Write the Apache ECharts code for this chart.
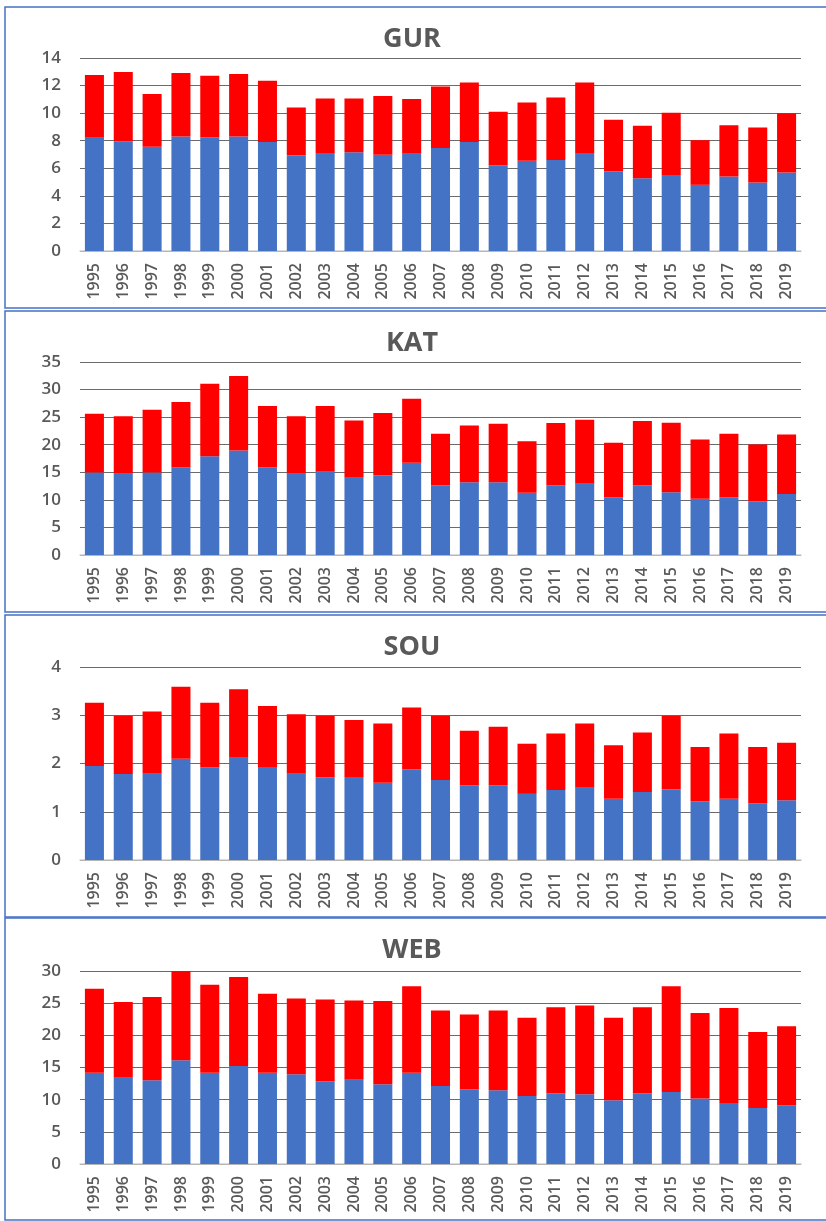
<!DOCTYPE html>
<html>
<head>
<meta charset="utf-8">
<script src="https://cdn.jsdelivr.net/npm/echarts@6/dist/echarts.min.js"></script>
<style>
  html, body { margin: 0; padding: 0; background: #fff; }
  #chart { width: 826px; height: 1221px; }
</style>
</head>
<body>
<div id="chart"></div>
<script>
// Years on the category axis
const years = ['1995','1996','1997','1998','1999','2000','2001','2002','2003','2004','2005','2006',
  '2007','2008','2009','2010','2011','2012','2013','2014','2015','2016','2017','2018','2019'];

// GUR: lower (blue) and upper (red) segments
const gurLower = [8.21,7.97,7.56,8.31,8.26,8.31,7.90,6.93,7.10,7.17,6.98,7.05,7.48,7.90,6.20,6.54,6.61,7.10,5.76,5.28,5.52,4.80,5.40,4.96,5.69];
const gurUpper = [4.55,5.01,3.82,4.60,4.45,4.53,4.45,3.48,3.97,3.90,4.26,3.97,4.46,4.33,3.90,4.24,4.53,5.13,3.76,3.80,4.51,3.24,3.73,4.00,4.31];

// KAT
const katLower = [14.96,14.72,14.96,15.93,17.93,18.96,15.93,14.72,15.08,13.99,14.42,16.72,12.60,13.20,13.20,11.27,12.60,12.90,10.48,12.60,11.39,10.18,10.48,9.69,11.08];
const katUpper = [10.66,10.42,11.39,11.81,13.14,13.50,11.08,10.42,11.93,10.42,11.32,11.63,9.39,10.30,10.60,9.38,11.32,11.63,9.87,11.69,12.59,10.78,11.51,10.36,10.79];

// SOU
const souLower = [1.95,1.78,1.79,2.10,1.92,2.12,1.93,1.79,1.71,1.72,1.60,1.88,1.66,1.55,1.55,1.37,1.45,1.50,1.27,1.41,1.46,1.21,1.27,1.17,1.24];
const souUpper = [1.31,1.21,1.29,1.49,1.34,1.42,1.26,1.23,1.28,1.18,1.23,1.28,1.33,1.13,1.21,1.04,1.17,1.33,1.11,1.23,1.53,1.13,1.35,1.17,1.19];

// WEB
const webLower = [14.20,13.42,13.01,16.11,14.20,15.23,14.20,13.94,12.85,13.11,12.39,14.20,12.13,11.62,11.46,10.58,10.94,10.84,9.91,10.94,11.20,10.17,9.50,8.72,9.14];
const webUpper = [13.06,11.77,12.96,13.89,13.68,13.84,12.28,11.77,12.71,12.29,12.96,13.42,11.72,11.61,12.39,12.14,13.43,13.79,12.81,13.43,16.42,13.32,14.76,11.78,12.28];

// Axis ranges per panel
const panelNames = ['GUR', 'KAT', 'SOU', 'WEB'];
const axisMax = [14, 35, 4, 30];
const axisStep = [2, 5, 1, 5];

const panels = [
  { name: panelNames[0], lower: gurLower, upper: gurUpper, max: axisMax[0], step: axisStep[0], top: 58,  title: 21,  box: [5, 7, 308] },
  { name: panelNames[1], lower: katLower, upper: katUpper, max: axisMax[1], step: axisStep[1], top: 362, title: 325, box: [5, 311, 612] },
  { name: panelNames[2], lower: souLower, upper: souUpper, max: axisMax[2], step: axisStep[2], top: 667, title: 629, box: [5, 615, 917] },
  { name: panelNames[3], lower: webLower, upper: webUpper, max: axisMax[3], step: axisStep[3], top: 971, title: 932, box: [5, 918, 1220] }
];

const FONT = '"Open Sans", "Liberation Sans", sans-serif';
const TEXT = '#595959';
const PLOT_H = 193;

const grids = [], xAxes = [], yAxes = [], series = [], titles = [], boxes = [];

panels.forEach((p, i) => {
  grids.push({ left: 80, right: 25, top: p.top, height: PLOT_H, containLabel: false });
  titles.push({
    text: p.name, left: 407, top: p.title, textAlign: 'center',
    textStyle: { fontFamily: FONT, fontSize: 27, fontWeight: 'bold', color: TEXT }
  });
  xAxes.push({
    type: 'category', gridIndex: i, data: years,
    axisLine: { show: true, lineStyle: { color: '#d0d0d0', width: 1.5 } },
    axisTick: { show: false },
    axisLabel: { rotate: 90, margin: 12, fontFamily: FONT, fontSize: 16, fontWeight: 600, color: TEXT, interval: 0 }
  });
  yAxes.push({
    type: 'value', gridIndex: i, min: 0, max: p.max, interval: p.step,
    axisLine: { show: false }, axisTick: { show: false },
    axisLabel: { margin: 19, fontFamily: FONT, fontSize: 17, fontWeight: 600, color: TEXT },
    splitLine: { show: true, lineStyle: { color: '#6b6b6b', width: 1.2 } }
  });
  series.push({
    type: 'bar', name: p.name + ' lower', xAxisIndex: i, yAxisIndex: i, stack: 's' + i,
    data: p.lower, barCategoryGap: '34%',
    itemStyle: { color: '#4472C4' }
  });
  series.push({
    type: 'bar', name: p.name + ' upper', xAxisIndex: i, yAxisIndex: i, stack: 's' + i,
    data: p.upper, barCategoryGap: '34%',
    itemStyle: { color: '#FF0000' }
  });
  // Panel frame
  boxes.push({
    type: 'rect', silent: true, z: 100,
    shape: { x: p.box[0], y: p.box[1], width: 840, height: p.box[2] - p.box[1] },
    style: { fill: 'none', stroke: '#4472C4', lineWidth: 1.5 }
  });
});

const chart = echarts.init(document.getElementById('chart'), null, { renderer: 'canvas' });
chart.setOption({
  animation: false,
  backgroundColor: '#ffffff',
  title: titles,
  grid: grids,
  xAxis: xAxes,
  yAxis: yAxes,
  series: series,
  graphic: boxes
});
</script>
</body>
</html>
